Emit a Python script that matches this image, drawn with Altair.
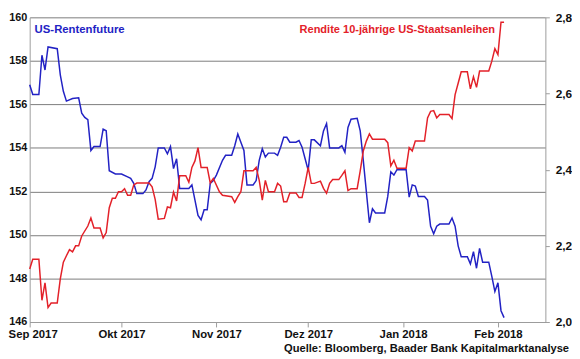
import altair as alt
import pandas as pd

# ---------------- data ----------------
future_dates = [
    "2017-09-01", "2017-09-02", "2017-09-04", "2017-09-05", "2017-09-06", "2017-09-07",
    "2017-09-10", "2017-09-11", "2017-09-12", "2017-09-13", "2017-09-15", "2017-09-17",
    "2017-09-18", "2017-09-19", "2017-09-20", "2017-09-21", "2017-09-22", "2017-09-24",
    "2017-09-25", "2017-09-26", "2017-09-27", "2017-09-29", "2017-10-01", "2017-10-03",
    "2017-10-04", "2017-10-05", "2017-10-06", "2017-10-08", "2017-10-09", "2017-10-10",
    "2017-10-11", "2017-10-12", "2017-10-13", "2017-10-15", "2017-10-16", "2017-10-17",
    "2017-10-18", "2017-10-19", "2017-10-20", "2017-10-23", "2017-10-24", "2017-10-25",
    "2017-10-26", "2017-10-27", "2017-10-28", "2017-10-29", "2017-10-30", "2017-10-31",
    "2017-11-01", "2017-11-03", "2017-11-04", "2017-11-06", "2017-11-07", "2017-11-08",
    "2017-11-09", "2017-11-10", "2017-11-11", "2017-11-13", "2017-11-14", "2017-11-15",
    "2017-11-16", "2017-11-17", "2017-11-18", "2017-11-20", "2017-11-21", "2017-11-22",
    "2017-11-23", "2017-11-24", "2017-11-25", "2017-11-27", "2017-11-28", "2017-11-29",
    "2017-11-30", "2017-12-01", "2017-12-02", "2017-12-03", "2017-12-05", "2017-12-06",
    "2017-12-07", "2017-12-08", "2017-12-11", "2017-12-12", "2017-12-13", "2017-12-14",
    "2017-12-15", "2017-12-17", "2017-12-18", "2017-12-19", "2017-12-21", "2017-12-22",
    "2017-12-23", "2017-12-26", "2017-12-27", "2017-12-28", "2017-12-29", "2017-12-30",
    "2018-01-02", "2018-01-03", "2018-01-04", "2018-01-05", "2018-01-06", "2018-01-08",
    "2018-01-09", "2018-01-10", "2018-01-11", "2018-01-12", "2018-01-13", "2018-01-16",
    "2018-01-17", "2018-01-18", "2018-01-19", "2018-01-20", "2018-01-22", "2018-01-23",
    "2018-01-24", "2018-01-25", "2018-01-26", "2018-01-27", "2018-01-29", "2018-01-30",
    "2018-01-31", "2018-02-01", "2018-02-02", "2018-02-03",
]
future_values = [
    156.9, 156.45, 156.45, 158.26, 157.58, 158.64,
    158.56, 157.36, 156.6, 156.15, 156.27, 156.3,
    155.6, 155.4, 155.3, 153.88, 154.06, 154.06,
    154.86, 154.79, 152.95, 152.8, 152.8, 152.67,
    152.6, 152.37, 151.9, 151.9, 152.07, 152.45,
    152.6, 153.13, 154.0, 154.0, 153.73, 154.06,
    153.05, 153.5, 152.14, 152.14, 152.3, 151.6,
    150.9, 150.7, 151.16, 151.16, 152.37, 152.5,
    152.75, 153.43, 153.66, 153.66, 154.1, 154.64,
    154.26, 153.88, 152.3, 152.3, 152.5, 153.43,
    153.96, 153.58, 153.76, 153.76, 153.66, 154.03,
    154.49, 154.49, 154.26, 154.26, 154.34, 154.03,
    153.5, 152.97, 154.37, 154.37, 154.1, 154.78,
    155.12, 154.0, 154.0, 154.1, 153.8, 154.94,
    155.32, 155.36, 154.78, 153.43, 150.56, 151.2,
    151.01, 151.01, 151.77, 152.9, 152.75, 153.0,
    153.0, 151.74, 152.3, 152.25, 151.77, 151.77,
    151.6, 150.4, 150.05, 150.4, 150.5, 150.5,
    150.78, 150.4, 149.5, 149.0, 149.0, 148.67,
    149.23, 148.47, 149.38, 148.75, 148.75, 148.1,
    147.4, 147.8, 146.52, 146.2,
]

yield_dates = [
    "2017-09-01", "2017-09-02", "2017-09-04", "2017-09-05", "2017-09-06", "2017-09-07",
    "2017-09-08", "2017-09-10", "2017-09-11", "2017-09-12", "2017-09-13", "2017-09-14",
    "2017-09-15", "2017-09-16", "2017-09-17", "2017-09-18", "2017-09-20", "2017-09-21",
    "2017-09-22", "2017-09-24", "2017-09-25", "2017-09-26", "2017-09-27", "2017-09-28",
    "2017-09-29", "2017-09-30", "2017-10-01", "2017-10-02", "2017-10-03", "2017-10-04",
    "2017-10-05", "2017-10-06", "2017-10-10", "2017-10-11", "2017-10-12", "2017-10-13",
    "2017-10-15", "2017-10-16", "2017-10-17", "2017-10-18", "2017-10-19", "2017-10-20",
    "2017-10-22", "2017-10-23", "2017-10-24", "2017-10-25", "2017-10-26", "2017-10-27",
    "2017-10-29", "2017-10-30", "2017-10-31", "2017-11-02", "2017-11-03", "2017-11-06",
    "2017-11-07", "2017-11-08", "2017-11-09", "2017-11-10", "2017-11-13", "2017-11-14",
    "2017-11-15", "2017-11-16", "2017-11-17", "2017-11-18", "2017-11-20", "2017-11-21",
    "2017-11-22", "2017-11-23", "2017-11-24", "2017-11-25", "2017-11-27", "2017-11-28",
    "2017-11-29", "2017-11-30", "2017-12-01", "2017-12-02", "2017-12-03", "2017-12-05",
    "2017-12-06", "2017-12-07", "2017-12-08", "2017-12-09", "2017-12-11", "2017-12-12",
    "2017-12-13", "2017-12-14", "2017-12-15", "2017-12-17", "2017-12-18", "2017-12-19",
    "2017-12-20", "2017-12-21", "2017-12-22", "2017-12-26", "2017-12-27", "2017-12-28",
    "2017-12-29", "2017-12-30", "2018-01-02", "2018-01-03", "2018-01-04", "2018-01-05",
    "2018-01-08", "2018-01-09", "2018-01-10", "2018-01-11", "2018-01-12", "2018-01-13",
    "2018-01-16", "2018-01-17", "2018-01-18", "2018-01-19", "2018-01-20", "2018-01-22",
    "2018-01-23", "2018-01-24", "2018-01-25", "2018-01-26", "2018-01-29", "2018-01-30",
    "2018-01-31", "2018-02-01", "2018-02-02", "2018-02-03",
]
yield_values = [
    2.139, 2.165, 2.165, 2.057, 2.103, 2.038,
    2.05, 2.05, 2.113, 2.157, 2.174, 2.19,
    2.184, 2.2, 2.2, 2.226, 2.252, 2.273,
    2.247, 2.247, 2.221, 2.235, 2.30, 2.325,
    2.325, 2.342, 2.342, 2.35, 2.333, 2.333,
    2.36, 2.365, 2.365, 2.355, 2.322, 2.27,
    2.272, 2.302, 2.3, 2.341, 2.318, 2.384,
    2.384, 2.367, 2.406, 2.423, 2.458, 2.406,
    2.406, 2.365, 2.377, 2.342, 2.333, 2.329,
    2.314, 2.329, 2.342, 2.397, 2.397, 2.406,
    2.372, 2.32, 2.372, 2.342, 2.342, 2.364,
    2.357, 2.316, 2.316, 2.339, 2.339, 2.327,
    2.327, 2.364, 2.406, 2.364, 2.364, 2.37,
    2.351, 2.338, 2.364, 2.374, 2.374, 2.385,
    2.397, 2.345, 2.35, 2.35, 2.397, 2.449,
    2.475, 2.494, 2.48, 2.48, 2.471, 2.41,
    2.425, 2.404, 2.404, 2.458, 2.449, 2.475,
    2.475, 2.536, 2.553, 2.555, 2.536, 2.545,
    2.545, 2.534, 2.597, 2.627, 2.657, 2.657,
    2.612, 2.644, 2.616, 2.659, 2.659, 2.685,
    2.718, 2.702, 2.787, 2.787,
]

month_ticks = ["2017-09-01", "2017-10-01", "2017-11-01", "2017-12-01", "2018-01-01", "2018-02-01"]
month_names_de = ["Jan", "Feb", "Mär", "Apr", "Mai", "Jun", "Jul", "Aug", "Sep", "Okt", "Nov", "Dez"]
left_ticks = [146, 148, 150, 152, 154, 156, 158, 160]
right_ticks = [2.0, 2.2, 2.4, 2.6, 2.8]
x_domain = ["2017-09-01T00:00", "2018-02-16T12:00"]

label_future = "US-Rentenfuture"
label_yield = "Rendite 10-jährige US-Staatsanleihen"
source_text = "Quelle: Bloomberg, Baader Bank Kapitalmarktanalyse"

BLUE = "#2222c4"
RED = "#e32129"
FONT = "Liberation Sans"


def to_dt(s):
    y, m, d = s.split("T")[0].split("-")
    extra = {}
    if "T" in s:
        hh, mm = s.split("T")[1].split(":")
        extra = {"hours": int(hh), "minutes": int(mm)}
    return alt.DateTime(year=int(y), month=int(m), date=int(d), **extra)


df_future = pd.DataFrame({"date": [d + "T00:00" for d in future_dates], "value": future_values})
df_yield = pd.DataFrame({"date": [d + "T00:00" for d in yield_dates], "value": yield_values})

month_js = "[" + ",".join("'" + m + "'" for m in month_names_de) + "]"

x_enc = alt.X(
    "date:T",
    scale=alt.Scale(domain=[to_dt(s) for s in x_domain]),
    axis=alt.Axis(
        values=[to_dt(s) for s in month_ticks],
        labelExpr=month_js + "[month(datum.value)] + ' ' + year(datum.value)",
        title=None,
        grid=False,
        tickSize=5,
        labelPadding=2,
        labelFontSize=11.5,
        labelAlign="center",
        labelFlush=False,
        labelOverlap=False,
        labelOffset={"condition": {"test": "month(datum.value) == 8", "value": 3}, "value": 0},
    ),
)

blue = alt.Chart(df_future).mark_line(color=BLUE, strokeWidth=1.5).encode(
    x=x_enc,
    y=alt.Y(
        "value:Q",
        scale=alt.Scale(domain=[146, 160], nice=False, zero=False),
        axis=alt.Axis(
            orient="left",
            values=left_ticks,
            format="d",
            title=None,
            grid=True,
            tickSize=0,
            labelPadding=3,
            labelFontSize=11,
        ),
    ),
)

red = alt.Chart(df_yield).mark_line(color=RED, strokeWidth=1.5).encode(
    x=alt.X("date:T"),
    y=alt.Y(
        "value:Q",
        scale=alt.Scale(domain=[2.0, 2.8], nice=False, zero=False),
        axis=alt.Axis(
            orient="right",
            values=right_ticks,
            labelExpr="replace(format(datum.value, '.1f'), '.', ',')",
            title=None,
            grid=False,
            tickSize=4,
            labelPadding=6,
            labelFontSize=12,
        ),
    ),
)

one = pd.DataFrame({"k": [0]})

txt_future = alt.Chart(one).mark_text(
    text=label_future, color=BLUE, font=FONT, fontWeight="bold", fontSize=11.5,
    align="left", baseline="alphabetic",
).encode(x=alt.value(5), y=alt.value(16))

txt_yield = alt.Chart(one).mark_text(
    text=label_yield, color=RED, font=FONT, fontWeight="bold", fontSize=11.2,
    align="right", baseline="alphabetic",
).encode(x=alt.value(472), y=alt.value(16))

txt_source = alt.Chart(one).mark_text(
    text=source_text, color="#111111", font=FONT, fontWeight="bold", fontSize=11.3,
    align="right", baseline="alphabetic",
).encode(x=alt.value(547), y=alt.value(339))

chart = (
    alt.layer(blue, red, txt_future, txt_yield, txt_source)
    .resolve_scale(y="independent")
    .properties(
        width=523,
        height=309,
        padding={"left": 22, "top": 7, "right": 27, "bottom": 32},
        autosize=alt.AutoSizeParams(type="none"),
        background="white",
    )
    .configure_view(stroke=None)
    .configure_axis(
        labelFont=FONT,
        labelFontWeight="bold",
        labelColor="#111111",
        domainColor="#9c9c9c",
        domainWidth=1,
        tickColor="#9c9c9c",
        gridColor="#7c7c7c",
        gridWidth=1,
        gridOpacity=1,
    )
)

chart.save("out.html", embed_options={"renderer": "svg", "actions": False})
